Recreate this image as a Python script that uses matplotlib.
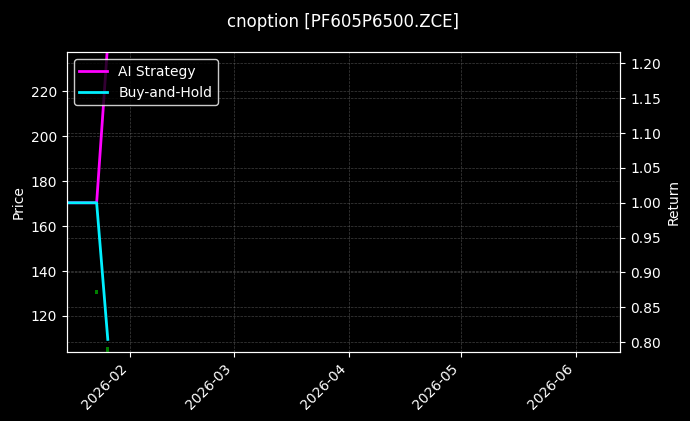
import matplotlib
matplotlib.use("Agg")
import matplotlib.pyplot as plt
import matplotlib.dates as mdates
import pandas as pd

plt.style.use("dark_background")

# price candles (tiny, only two days visible)
candle_dates = pd.to_datetime(["2026-01-23", "2026-01-26"])
opens = [131.6, 106.2]
closes = [129.9, 100.0]

# cumulative returns
ret_dates = pd.to_datetime(["2026-01-15", "2026-01-23", "2026-01-26"])
strategy = [1.0, 1.0, 1.23]
buy_hold = [1.0, 1.0, 0.804]

fig = plt.figure(figsize=(6.9, 4.21), dpi=100)
fig.patch.set_facecolor("black")
ax = fig.add_axes([0.097, 0.164, 0.802, 0.712])
ax.set_facecolor("black")

heights = [c - o for o, c in zip(opens, closes)]
ax.bar(candle_dates, heights, bottom=opens, width=0.7, color="green", zorder=2)
ax.set_ylim(104.0, 237.3)
ax.set_ylabel("Price")
ax.grid(True, linestyle="--", linewidth=0.5, color="gray", alpha=0.5)

ax2 = ax.twinx()
ax2.plot(ret_dates, strategy, color="#ff00ff", lw=2, label="AI Strategy")
ax2.plot(ret_dates, buy_hold, color="#00f0ff", lw=2, label="Buy-and-Hold")
ax2.set_ylim(0.786, 1.216)
ax2.set_ylabel("Return")
ax2.grid(True, linestyle="--", linewidth=0.5, color="gray", alpha=0.5)
ax2.legend(loc="upper left", facecolor="black", edgecolor="white")

ax.set_xlim(pd.Timestamp("2026-01-15"), pd.Timestamp("2026-06-13"))
ax.xaxis.set_major_locator(mdates.MonthLocator())
ax.xaxis.set_major_formatter(mdates.DateFormatter("%Y-%m"))
plt.setp(ax.get_xticklabels(), rotation=45, ha="right")

fig.suptitle("cnoption [PF605P6500.ZCE]", fontsize=12, x=0.4965, y=0.97)

fig.savefig("out.png", dpi=100, facecolor="black")
